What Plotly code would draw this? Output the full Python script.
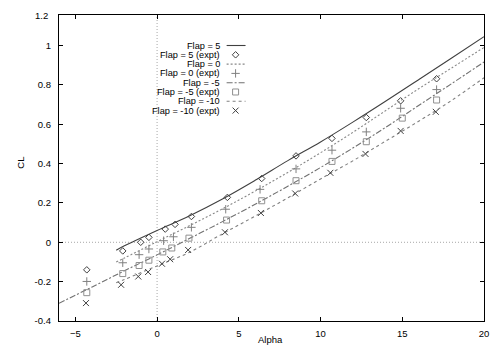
import plotly.graph_objects as go

# ---- data ----
alpha_f5 = [-4.3, -2.1, -1.0, -0.5, 0.5, 1.1, 2.1, 4.3, 6.4, 8.5, 10.7, 12.8, 14.9, 17.1]
cl_f5 = [-0.14, -0.044, 0.0, 0.025, 0.067, 0.091, 0.131, 0.228, 0.324, 0.439, 0.528, 0.634, 0.719, 0.831]

alpha_f0 = [-4.3, -2.1, -1.1, -0.5, 0.4, 1.0, 2.1, 4.2, 6.3, 8.5, 10.7, 12.8, 14.9, 17.1]
cl_f0 = [-0.199, -0.104, -0.063, -0.034, 0.008, 0.028, 0.076, 0.168, 0.269, 0.373, 0.468, 0.561, 0.681, 0.776]

alpha_fm5 = [-4.3, -2.1, -1.1, -0.5, 0.35, 0.9, 1.95, 4.25, 6.4, 8.5, 10.7, 12.8, 15.0, 17.1]
cl_fm5 = [-0.256, -0.159, -0.118, -0.091, -0.049, -0.029, 0.021, 0.113, 0.211, 0.313, 0.411, 0.511, 0.631, 0.723]

alpha_fm10 = [-4.35, -2.2, -1.15, -0.55, 0.3, 0.8, 1.9, 4.15, 6.35, 8.45, 10.6, 12.75, 14.9, 17.05]
cl_fm10 = [-0.309, -0.216, -0.174, -0.151, -0.109, -0.086, -0.039, 0.051, 0.149, 0.248, 0.353, 0.449, 0.566, 0.663]

alpha_calc = [-2.5, -2, 0, 2, 4, 6, 8, 10, 12, 14, 16, 18, 20]
cl_calc_f5 = [-0.04, -0.018, 0.06, 0.135, 0.22, 0.315, 0.415, 0.51, 0.612, 0.718, 0.826, 0.935, 1.045]
cl_calc_f0 = [-0.10, -0.08, 0.003, 0.085, 0.17, 0.26, 0.355, 0.455, 0.56, 0.67, 0.78, 0.885, 0.99]
cl_calc_fm10 = [-0.206, -0.189, -0.12, -0.05, 0.043, 0.133, 0.226, 0.322, 0.415, 0.515, 0.615, 0.72, 0.836]

alpha_calc_m5 = [-6, -4, -2, 0, 2, 4, 6, 8, 10, 12, 14, 16, 18, 20]
cl_calc_fm5 = [-0.31, -0.228, -0.145, -0.064, 0.02, 0.105, 0.193, 0.285, 0.38, 0.48, 0.585, 0.695, 0.805, 0.916]

x_ticks = [-5, 0, 5, 10, 15, 20]
y_ticks = [-0.4, -0.2, 0, 0.2, 0.4, 0.6, 0.8, 1.0]
y_ticktext = ["-0.4", "-0.2", "0", "0.2", "0.4", "0.6", "0.8", "1"]

legend_labels = ["Flap = 5", "Flap = 5 (expt)", "Flap = 0", "Flap = 0 (expt)",
                 "Flap = -5", "Flap = -5 (expt)", "Flap = -10", "Flap = -10 (expt)"]

FONT = "Liberation Sans, Arial, Helvetica, sans-serif"
TXT = dict(family=FONT, size=9.5, color="black")
KEY_TXT = dict(family=FONT, size=9.2, color="black")

# styles
s_f5 = dict(color="#404040", width=1.1, dash="solid")
s_f0 = dict(color="#888888", width=1.1, dash="2px,2px")
s_fm5 = dict(color="#707070", width=1.1, dash="6px,2px,2px,2px")
s_fm10 = dict(color="#808080", width=1.1, dash="3px,3px")
m_f5 = dict(symbol="diamond-open", size=5, color="#404040", line=dict(width=1, color="#404040"))
m_f0 = dict(symbol="cross-thin-open", size=6, color="#808080", line=dict(width=1, color="#808080"))
m_fm5 = dict(symbol="square-open", size=6, color="#909090", line=dict(width=1, color="#909090"))
m_fm10 = dict(symbol="x-thin-open", size=6, color="#404040", line=dict(width=1, color="#404040"))

fig = go.Figure()

fig.add_trace(go.Scatter(x=alpha_calc, y=cl_calc_f5, mode="lines", line=s_f5, line_shape="spline"))
fig.add_trace(go.Scatter(x=alpha_f5, y=cl_f5, mode="markers", marker=m_f5))
fig.add_trace(go.Scatter(x=alpha_calc, y=cl_calc_f0, mode="lines", line=s_f0, line_shape="spline"))
fig.add_trace(go.Scatter(x=alpha_f0, y=cl_f0, mode="markers", marker=m_f0))
fig.add_trace(go.Scatter(x=alpha_calc_m5, y=cl_calc_fm5, mode="lines", line=s_fm5, line_shape="spline"))
fig.add_trace(go.Scatter(x=alpha_fm5, y=cl_fm5, mode="markers", marker=m_fm5))
fig.add_trace(go.Scatter(x=alpha_calc, y=cl_calc_fm10, mode="lines", line=s_fm10, line_shape="spline"))
fig.add_trace(go.Scatter(x=alpha_fm10, y=cl_fm10, mode="markers", marker=m_fm10))

# ---- gnuplot-style key (text right-aligned, sample on the right), on a pixel overlay axis ----
row0, row_step = 46.0, 9.45
text_right = 222
samp_x0, samp_x1, samp_xm = 227, 246, 236
styles = [("line", s_f5), ("marker", m_f5), ("line", s_f0), ("marker", m_f0),
          ("line", s_fm5), ("marker", m_fm5), ("line", s_fm10), ("marker", m_fm10)]
annotations = []
for i, (lab, (kind, st)) in enumerate(zip(legend_labels, styles)):
    yy = row0 + row_step * i
    annotations.append(dict(x=text_right, y=yy, xref="x2", yref="y2", text=lab, showarrow=False,
                            xanchor="right", yanchor="middle", font=KEY_TXT))
    if kind == "line":
        fig.add_trace(go.Scatter(x=[samp_x0, samp_x1], y=[yy, yy], mode="lines", line=st,
                                 xaxis="x2", yaxis="y2"))
    else:
        fig.add_trace(go.Scatter(x=[samp_xm], y=[yy], mode="markers", marker=st,
                                 xaxis="x2", yaxis="y2"))

PW, PH = 426.0, 311.0
annotations.append(dict(x=(50 - 59) / PW, y=1.0, xref="paper", yref="paper", text="1.2", showarrow=False,
                        xanchor="right", yanchor="middle", font=TXT))
annotations.append(dict(x=(271 - 59) / PW, y=(326 - 345) / PH, xref="paper", yref="paper", text="Alpha",
                        showarrow=False, xanchor="center", yanchor="middle", font=TXT))
annotations.append(dict(x=(20 - 59) / PW, y=(326 - 165) / PH, xref="paper", yref="paper", text="CL",
                        showarrow=False, textangle=-90, xanchor="center", yanchor="middle", font=TXT))

shapes = [
    dict(type="line", xref="x", yref="paper", x0=0, x1=0, y0=0, y1=1,
         line=dict(color="#a8a8a8", width=1, dash="1px,2px"), layer="below"),
    dict(type="line", xref="paper", yref="y", x0=0, x1=1, y0=0, y1=0,
         line=dict(color="#a8a8a8", width=1, dash="1px,2px"), layer="below"),
]

axis_common = dict(showline=True, linecolor="black", linewidth=1.3, mirror="allticks",
                   ticks="inside", ticklen=4, tickwidth=1, tickcolor="black",
                   showgrid=False, zeroline=False, tickfont=TXT)

fig.update_layout(
    width=501, height=351,
    margin=dict(l=59, r=16, t=15, b=25, pad=0),
    paper_bgcolor="white", plot_bgcolor="white",
    showlegend=False,
    xaxis=dict(range=[-6, 20], tickvals=x_ticks, ticklabelstandoff=3, **axis_common),
    yaxis=dict(range=[-0.4, 1.155], tickvals=y_ticks, ticktext=y_ticktext, ticklabelstandoff=5, **axis_common),
    xaxis2=dict(range=[59, 485], overlaying="x", anchor="y2", visible=False, fixedrange=True),
    yaxis2=dict(range=[326, 15], overlaying="y", anchor="x2", visible=False, fixedrange=True),
    annotations=annotations,
    shapes=shapes,
)

fig.write_html("out.html")
